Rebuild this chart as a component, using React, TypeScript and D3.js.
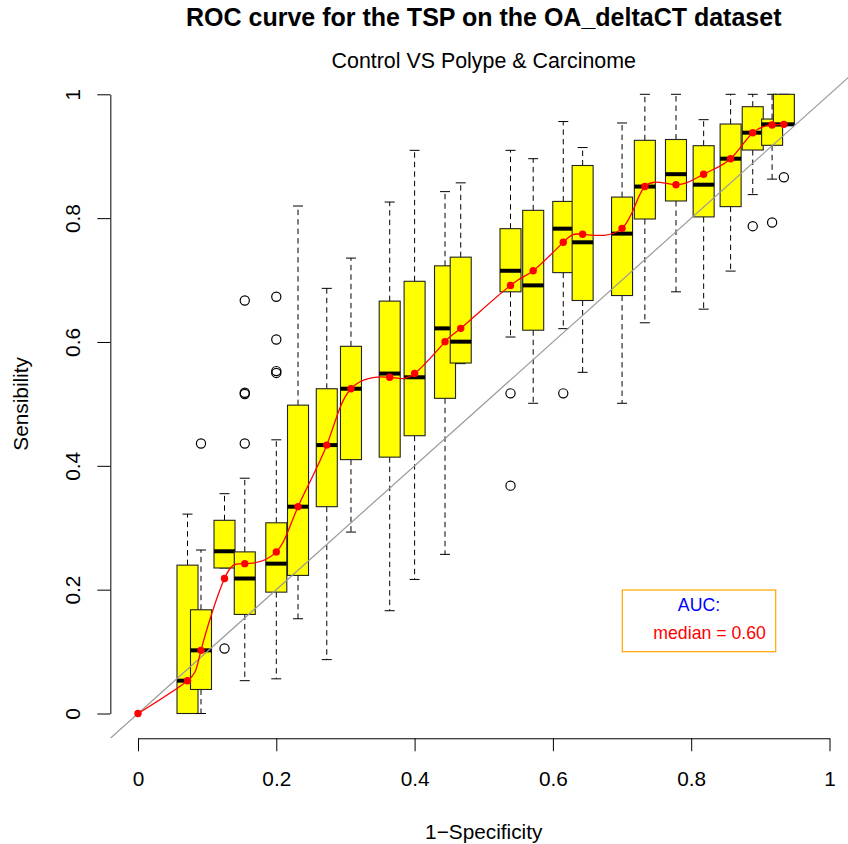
import { useEffect, useRef } from 'react';
import * as d3 from 'd3';

// box positions on the 1-specificity axis
const boxX = [0.0716, 0.0911, 0.1251, 0.1544, 0.2, 0.2314, 0.273, 0.308, 0.364, 0.4, 0.444, 0.4667,
  0.5387, 0.5715, 0.615, 0.643, 0.7, 0.733, 0.778, 0.818, 0.857, 0.889, 0.917, 0.934];
const whiskLo = [0, 0, 0.235, 0.053, 0.056, 0.153, 0.087, 0.293, 0.166, 0.2165, 0.257, 0.565,
  0.608, 0.501, 0.6215, 0.551, 0.501, 0.631, 0.681, 0.653, 0.7145, 0.838, 0.863, 0.9515];
const q1 = [0, 0.0388, 0.235, 0.16, 0.196, 0.223, 0.334, 0.41, 0.414, 0.4486, 0.509, 0.566,
  0.681, 0.619, 0.712, 0.667, 0.675, 0.7986, 0.8277, 0.802, 0.8186, 0.91, 0.9176, 0.9515];
const med = [0.053, 0.102, 0.262, 0.218, 0.242, 0.334, 0.4335, 0.5245, 0.549, 0.543, 0.622, 0.6005,
  0.715, 0.6914, 0.783, 0.761, 0.775, 0.851, 0.871, 0.854, 0.896, 0.938, 0.9515, 0.9515];
const q3 = [0.2396, 0.1675, 0.312, 0.261, 0.308, 0.498, 0.5245, 0.593, 0.666, 0.698, 0.723, 0.737,
  0.783, 0.8126, 0.827, 0.885, 0.834, 0.9257, 0.927, 0.917, 0.952, 0.98, 0.96, 1.0];
const whiskHi = [0.322, 0.264, 0.355, 0.38, 0.442, 0.8196, 0.6866, 0.7355, 0.826, 0.9095, 0.8428, 0.857,
  0.9095, 0.896, 0.956, 0.914, 0.9537, 1, 1, 0.959, 1, 1, 1, 1];
const outliers = [[], [0.436], [0.105], [0.667, 0.518, 0.516, 0.436], [0.673, 0.604, 0.553, 0.55], [], [], [], [], [], [], [],
  [0.517, 0.368], [], [0.517], [], [], [], [], [], [], [0.787], [0.793], [0.866]];

// median ROC curve points
const rocX = [0, ...boxX];
const rocY = [0, 0.053, 0.102, 0.218, 0.242, 0.261, 0.334, 0.4335, 0.5245, 0.543, 0.549, 0.6005, 0.622,
  0.6914, 0.715, 0.761, 0.774, 0.7835, 0.851, 0.854, 0.871, 0.896, 0.938, 0.9505, 0.9515];

const ticks = [0, 0.2, 0.4, 0.6, 0.8, 1];
const titleText = 'ROC curve for the TSP on the OA_deltaCT dataset';
const subtitleText = 'Control VS Polype & Carcinome';
const legendTitle = 'AUC:';
const legendLabel = 'median = 0.60';

const FONT = 'Liberation Sans, Arial, Helvetica, sans-serif';

export default function App() {
  const svgRef = useRef(null);
  const width = 848, height = 844;

  useEffect(() => {
    const svg = d3.select(svgRef.current);
    svg.selectAll('*').remove();

    const x = d3.scaleLinear().domain([0, 1]).range([138, 829.5]);
    const y = d3.scaleLinear().domain([0, 1]).range([713.5, 94.3]);
    // plot region (R extends the range by 4%)
    const px0 = x(-0.04), px1 = x(1.04), py0 = y(-0.04), py1 = y(1.04);

    svg.append('defs').append('clipPath').attr('id', 'plotclip')
      .append('rect').attr('x', px0).attr('y', py1).attr('width', px1 - px0).attr('height', py0 - py1);

    const halfW = 10.5; // box half width in px
    const boxes = svg.append('g');
    boxX.forEach((bx, i) => {
      const cx = x(bx);
      const g = boxes.append('g');
      // whiskers
      g.append('line').attr('x1', cx).attr('x2', cx).attr('y1', y(q3[i])).attr('y2', y(whiskHi[i]))
        .attr('stroke', '#000').attr('stroke-dasharray', '5.5,4');
      g.append('line').attr('x1', cx).attr('x2', cx).attr('y1', y(q1[i])).attr('y2', y(whiskLo[i]))
        .attr('stroke', '#000').attr('stroke-dasharray', '5.5,4');
      [whiskHi[i], whiskLo[i]].forEach(v => {
        g.append('line').attr('x1', cx - 5).attr('x2', cx + 5).attr('y1', y(v)).attr('y2', y(v))
          .attr('stroke', '#000');
      });
      g.append('rect').attr('x', cx - halfW).attr('width', halfW * 2)
        .attr('y', y(q3[i])).attr('height', Math.max(0.01, y(q1[i]) - y(q3[i])))
        .attr('fill', '#ffff00').attr('stroke', '#222').attr('stroke-width', 1.1);
      g.append('line').attr('x1', cx - halfW).attr('x2', cx + halfW).attr('y1', y(med[i])).attr('y2', y(med[i]))
        .attr('stroke', '#000').attr('stroke-width', 4);
      g.selectAll('circle.out').data(outliers[i]).join('circle')
        .attr('cx', cx).attr('cy', d => y(d)).attr('r', 4.6)
        .attr('fill', 'none').attr('stroke', '#000').attr('stroke-width', 1.2);
    });

    // diagonal
    svg.append('line').attr('clip-path', 'url(#plotclip)')
      .attr('x1', x(-0.04)).attr('y1', y(-0.04)).attr('x2', x(1.04)).attr('y2', y(1.04))
      .attr('stroke', '#9a9a9a').attr('stroke-width', 1.2);

    // red spline
    const pts = rocX.map((v, i) => [v, rocY[i]]);
    const line = d3.line().x(d => x(d[0])).y(d => y(d[1])).curve(d3.curveNatural);
    svg.append('path').attr('d', line(pts)).attr('fill', 'none').attr('stroke', '#ff0000').attr('stroke-width', 1.3);
    svg.append('g').selectAll('circle').data(pts).join('circle')
      .attr('cx', d => x(d[0])).attr('cy', d => y(d[1])).attr('r', 3.7).attr('fill', '#ff0000');

    // axes
    const xAxis = svg.append('g').attr('transform', `translate(0,${py0})`)
      .call(d3.axisBottom(x).tickValues(ticks).tickSize(13).tickSizeOuter(0).tickPadding(20).tickFormat(d => String(d)));
    const yAxis = svg.append('g').attr('transform', `translate(${px0},0)`)
      .call(d3.axisLeft(y).tickValues(ticks).tickSize(13).tickSizeOuter(0).tickFormat(d => String(d)));
    [xAxis, yAxis].forEach(a => {
      a.attr('font-family', FONT).attr('font-size', 20.8).attr('color', '#000');
      a.selectAll('line,path').attr('stroke-width', 1);
    });
    yAxis.selectAll('.tick text')
      .attr('transform', 'rotate(-90)').attr('x', 0).attr('y', -38).attr('dy', '0.36em')
      .attr('text-anchor', 'middle');

    const midX = (px0 + px1) / 2;
    svg.append('text').attr('x', midX).attr('y', 26).attr('text-anchor', 'middle')
      .attr('font-family', FONT).attr('font-size', 25).attr('font-weight', 'bold').text(titleText);
    svg.append('text').attr('x', midX).attr('y', 67.5).attr('text-anchor', 'middle')
      .attr('font-family', FONT).attr('font-size', 21.4).text(subtitleText);
    svg.append('text').attr('x', midX).attr('y', 838.5).attr('text-anchor', 'middle')
      .attr('font-family', FONT).attr('font-size', 20.8).text('1\u2212Specificity');
    svg.append('text').attr('transform', `translate(27.5,${(py0 + py1) / 2}) rotate(-90)`).attr('text-anchor', 'middle')
      .attr('font-family', FONT).attr('font-size', 20.8).text('Sensibility');

    // legend
    const lg = svg.append('g');
    lg.append('rect').attr('x', 622.3).attr('y', 590).attr('width', 153.4).attr('height', 61.7)
      .attr('fill', '#fff').attr('stroke', '#ffa500').attr('stroke-width', 1.2);
    lg.append('text').attr('x', 699).attr('y', 611.3).attr('text-anchor', 'middle')
      .attr('font-family', FONT).attr('font-size', 17.7).attr('fill', '#0000ff').text(legendTitle);
    lg.append('text').attr('x', 653.3).attr('y', 638.6)
      .attr('font-family', FONT).attr('font-size', 17.7).attr('fill', '#ff0000').text(legendLabel);
  }, []);

  return (
    <svg ref={svgRef} width={width} height={height}
      style={{ position: 'absolute', left: 0, top: 0, background: '#fff', display: 'block' }} />
  );
}
